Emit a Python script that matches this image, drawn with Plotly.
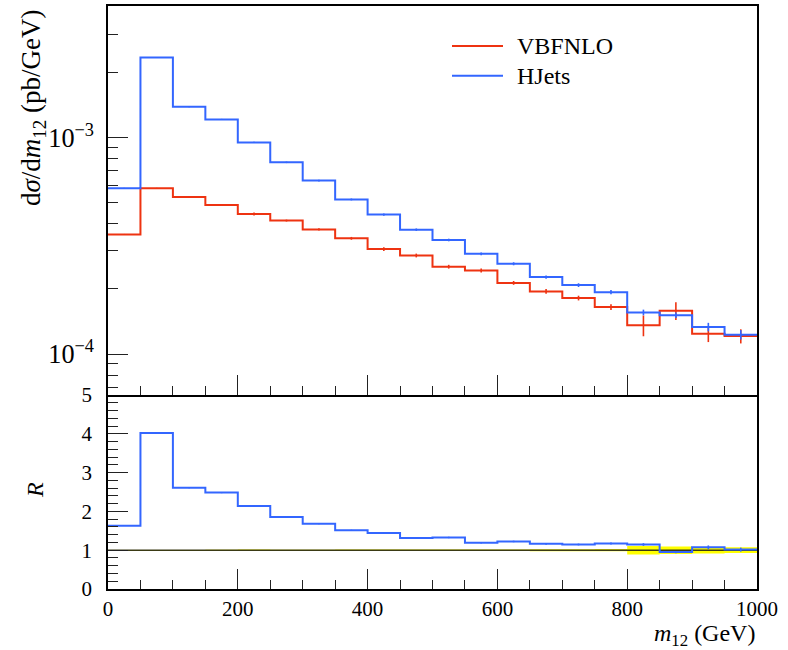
import numpy as np
import plotly.graph_objects as go

# Binning in m12 (GeV)
edges = [0, 50, 100, 150, 200, 250, 300, 350, 400, 450, 500,
         550, 600, 650, 700, 750, 800, 850, 900, 950, 1000]

# dsigma/dm12 (pb/GeV)
vbfnlo = [3.565e-4, 5.82e-4, 5.30e-4, 4.87e-4, 4.43e-4, 4.13e-4, 3.76e-4,
          3.42e-4, 3.05e-4, 2.85e-4, 2.53e-4, 2.43e-4, 2.13e-4, 1.946e-4,
          1.813e-4, 1.647e-4, 1.357e-4, 1.585e-4, 1.241e-4, 1.21e-4]
hjets = [5.82e-4, 2.34e-3, 1.383e-3, 1.21e-3, 9.48e-4, 7.67e-4, 6.32e-4,
         5.17e-4, 4.40e-4, 3.75e-4, 3.36e-4, 2.90e-4, 2.61e-4, 2.265e-4,
         2.08e-4, 1.93e-4, 1.556e-4, 1.51e-4, 1.333e-4, 1.228e-4]

# relative statistical uncertainties
vbfnlo_relerr = [0.005, 0.005, 0.008, 0.01, 0.015, 0.01, 0.012, 0.015,
                 0.02, 0.02, 0.02, 0.02, 0.02, 0.025, 0.025, 0.03,
                 0.11, 0.095, 0.085, 0.075]
hjets_relerr = [0.005, 0.004, 0.005, 0.006, 0.007, 0.008, 0.009, 0.01,
                0.012, 0.013, 0.014, 0.015, 0.016, 0.018, 0.02, 0.022,
                0.03, 0.03, 0.045, 0.05]

RED = "#EE3311"
BLUE = "#3366FF"
FONT = "Liberation Serif"

e = np.array(edges, dtype=float)
centers = 0.5 * (e[:-1] + e[1:])
red = np.array(vbfnlo)
blue = np.array(hjets)
red_err = red * np.array(vbfnlo_relerr)
blue_err = blue * np.array(hjets_relerr)
ratio = blue / red
ratio_err = blue_err / red
band_lo = 1 - np.array(vbfnlo_relerr)
band_hi = 1 + np.array(vbfnlo_relerr)


def step(vals):
    v = list(vals)
    return list(e), v + [v[-1]]


fig = go.Figure()

# --- upper panel: distributions ---
for vals, errs, col, name in [(red, red_err, RED, "VBFNLO"),
                              (blue, blue_err, BLUE, "HJets")]:
    xs, ys = step(vals)
    fig.add_trace(go.Scatter(x=xs, y=ys, mode="lines", line_shape="hv",
                             line=dict(color=col, width=2), name=name,
                             showlegend=False, xaxis="x", yaxis="y"))
    fig.add_trace(go.Scatter(x=centers, y=vals, mode="markers",
                             marker=dict(size=1, color=col, opacity=0),
                             error_y=dict(type="data", array=errs, width=0,
                                          thickness=1.6, color=col),
                             showlegend=False, hoverinfo="skip",
                             xaxis="x", yaxis="y"))

# --- lower panel: ratio to VBFNLO ---
xs, lo = step(band_lo)
_, hi = step(band_hi)
fig.add_trace(go.Scatter(x=xs, y=lo, mode="lines", line_shape="hv",
                         line=dict(width=0, color="#FFFF00"),
                         showlegend=False, hoverinfo="skip",
                         xaxis="x2", yaxis="y2"))
fig.add_trace(go.Scatter(x=xs, y=hi, mode="lines", line_shape="hv",
                         line=dict(width=0, color="#FFFF00"),
                         fill="tonexty", fillcolor="#FFFF00",
                         showlegend=False, hoverinfo="skip",
                         xaxis="x2", yaxis="y2"))
xs, ones = step(np.ones_like(red))
fig.add_trace(go.Scatter(x=xs, y=ones, mode="lines", line_shape="hv",
                         line=dict(color="#3a3a14", width=1.6),
                         showlegend=False, hoverinfo="skip",
                         xaxis="x2", yaxis="y2"))
xs, rs = step(ratio)
fig.add_trace(go.Scatter(x=xs, y=rs, mode="lines", line_shape="hv",
                         line=dict(color=BLUE, width=2),
                         showlegend=False, xaxis="x2", yaxis="y2"))
fig.add_trace(go.Scatter(x=centers, y=ratio, mode="markers",
                         marker=dict(size=1, color=BLUE, opacity=0),
                         error_y=dict(type="data", array=ratio_err, width=0,
                                      thickness=1.6, color=BLUE),
                         showlegend=False, hoverinfo="skip",
                         xaxis="x2", yaxis="y2"))

# plot area: y from 6 px (top) to 589 px (bottom); panels meet at 395 px
TOP, BOT, MID = 6.0, 589.0, 395.0
H = BOT - TOP
split = (BOT - MID) / H
tickfont = dict(family=FONT, size=21, color="black")

common_x = dict(range=[0, 1000], showgrid=False, zeroline=False,
                showline=True, linecolor="black", linewidth=1.5,
                ticks="inside", ticklen=20, tickwidth=1.3, tickcolor="#222",
                dtick=200, tick0=0, automargin=False,
                minor=dict(ticks="inside", ticklen=9, dtick=50,
                           tickwidth=1.3, tickcolor="#222", showgrid=False))

fig.update_layout(
    width=788, height=650, autosize=False,
    margin=dict(l=108, r=31, t=int(TOP), b=650 - int(BOT), pad=0,
                autoexpand=False),
    plot_bgcolor="white", paper_bgcolor="white",
    font=dict(family=FONT, size=21, color="black"),
    xaxis=dict(**common_x, anchor="y", showticklabels=False, matches="x2",
               mirror=True),
    yaxis=dict(type="log", domain=[split, 1], automargin=False,
               range=[np.log10(6.47e-5), np.log10(4.04e-3)],
               showgrid=False, zeroline=False, showline=True,
               linecolor="black", linewidth=1.5, mirror=True,
               ticks="inside", ticklen=20, tickwidth=1.3, tickcolor="#222",
               dtick=1, exponentformat="power", showexponent="all",
               tickfont=tickfont, ticklabelstandoff=8,
               minor=dict(ticks="inside", ticklen=10, dtick="D1",
                          tickwidth=1.3, tickcolor="#222", showgrid=False)),
    xaxis2=dict(**common_x, anchor="y2", showticklabels=True, mirror=False,
                tickfont=tickfont, ticklabelstandoff=0),
    yaxis2=dict(domain=[0, split], range=[0, 5], showgrid=False,
                automargin=False,
                zeroline=False, showline=True, linecolor="black",
                linewidth=1.5, mirror=True, ticks="inside", ticklen=20,
                tickwidth=1.3, tickcolor="#222", dtick=1, tick0=0,
                tickfont=tickfont, ticklabelstandoff=10,
                minor=dict(ticks="inside", ticklen=10, dtick=0.2,
                           tickwidth=1.3, tickcolor="#222", showgrid=False)),
)


def ypaper(px):
    return (BOT - px) / H


def xpaper(px):
    return (px - 108) / 649.0


# legend
legend_rows = [("VBFNLO", RED, ypaper(46)), ("HJets", BLUE, ypaper(75.7))]
for label, col, yy in legend_rows:
    fig.add_shape(type="line", xref="paper", yref="paper",
                  x0=xpaper(452), x1=xpaper(503),
                  y0=yy, y1=yy, line=dict(color=col, width=2))
    fig.add_annotation(text=label, xref="paper", yref="paper",
                       x=xpaper(515), y=yy, xanchor="left",
                       yanchor="middle", showarrow=False,
                       font=dict(family=FONT, size=24, color="black"))

# axis titles
fig.add_annotation(text="d<i>σ</i>/d<i>m</i><sub>12</sub> (pb/GeV)",
                   xref="paper", yref="paper", x=xpaper(33), y=ypaper(8),
                   xanchor="center", yanchor="top", textangle=-90,
                   showarrow=False, font=dict(family=FONT, size=27))
fig.add_annotation(text="<i>R</i>", xref="paper", yref="paper",
                   x=xpaper(35), y=ypaper(490),
                   xanchor="center", yanchor="middle", textangle=-90,
                   showarrow=False, font=dict(family=FONT, size=24))
fig.add_annotation(text="<i>m</i><sub>12</sub> (GeV)",
                   xref="paper", yref="paper", x=1.0, y=ypaper(618),
                   xanchor="right", yanchor="top", showarrow=False,
                   font=dict(family=FONT, size=24))

fig.write_html("out.html")
